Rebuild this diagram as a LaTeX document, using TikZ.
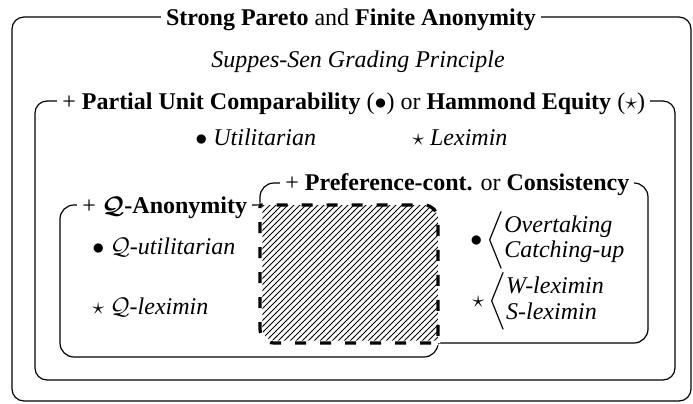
\documentclass[tikz,border=0pt,12pt]{standalone}
\usepackage{fontspec}
\setmainfont{Liberation Serif}
\usepackage{amsmath, amssymb}
\usetikzlibrary{patterns}

\begin{document}
\begin{tikzpicture}[x=0.5pt, y=-0.5pt,
	box/.style={semithick, rounded corners=6pt},
	inbox/.style={semithick, rounded corners=7pt},
	boxtitle/.style={fill=white, inner sep=2.5pt, anchor=base west},
	border/.style={line width=1.6pt, dash pattern=on 5.5pt off 7pt, rounded corners=7pt},
	lbl/.style={inner sep=0pt, anchor=base west}]
	\useasboundingbox (0,0) rectangle (693,403);

	% the nested boxes
	\draw[box] (12,17) rectangle (691,401);
	\draw[box] (35,101) rectangle (675,380);
	\draw[inbox] (60,205) rectangle (438,357);
	\draw[inbox] (260,183) rectangle (648,343);

	% the shared part of the two inner boxes
	\begin{scope}
		\clip[rounded corners=7pt] (260,183) rectangle (648,343);
		\draw[line width=2.4pt, white, rounded corners=7pt] (60,205) rectangle (438,357);
		\fill[pattern=north east lines, rounded corners=7pt] (60,205) rectangle (438,357);
	\end{scope}
	\begin{scope}
		\clip[rounded corners=7pt] (60,205) rectangle (438,357);
		\draw[line width=2.4pt, white, rounded corners=7pt] (260,183) rectangle (648,343);
		\draw[border] (260,183) rectangle (648,343);
	\end{scope}
	\begin{scope}
		\clip[rounded corners=7pt] (260,183) rectangle (648,343);
		\draw[border] (60,205) rectangle (438,357);
	\end{scope}

	% titles on the box lines
	\node[boxtitle, anchor=base] (pareto) at (351,25) {\textbf{Strong Pareto} and \textbf{Finite Anonymity}};
	\node[boxtitle] (puc) at (57,109) {+ \textbf{Partial Unit Comparability} ($\bullet$) or \textbf{Hammond Equity} ($\star$)};
	\node[boxtitle] (qanon) at (77,213) {+ $\boldsymbol{\mathcal{Q}}$\textbf{-Anonymity}};
	\node[boxtitle] (pref) at (280,190) {+ \textbf{Preference-cont.} or \textbf{Consistency}};

	% the criteria
	\node[lbl, anchor=base] (grading) at (358,67) {\textit{Suppes-Sen Grading Principle}};
	\node[lbl] (util) at (195,145) {$\bullet$ \textit{Utilitarian}};
	\node[lbl] (lex) at (412,145) {$\star$ \textit{Leximin}};
	\node[lbl] (qutil) at (92,254) {$\bullet$ $\mathcal{Q}$\textit{-utilitarian}};
	\node[lbl] (qlex) at (92,314) {$\star$ $\mathcal{Q}$\textit{-leximin}};
	\node[lbl, anchor=west] (overt) at (470,240) {\def\arraystretch{0.86}$\bullet\,\bigg\langle\begin{tabular}{@{}l@{}}\textit{Overtaking}\\ \textit{Catching-up}\end{tabular}$};
	\node[lbl, anchor=west] (wlex) at (472,301) {\def\arraystretch{0.9}$\star\,\bigg\langle\begin{tabular}{@{}l@{}}\textit{W-leximin}\\ \textit{S-leximin}\end{tabular}$};
\end{tikzpicture}
\end{document}
